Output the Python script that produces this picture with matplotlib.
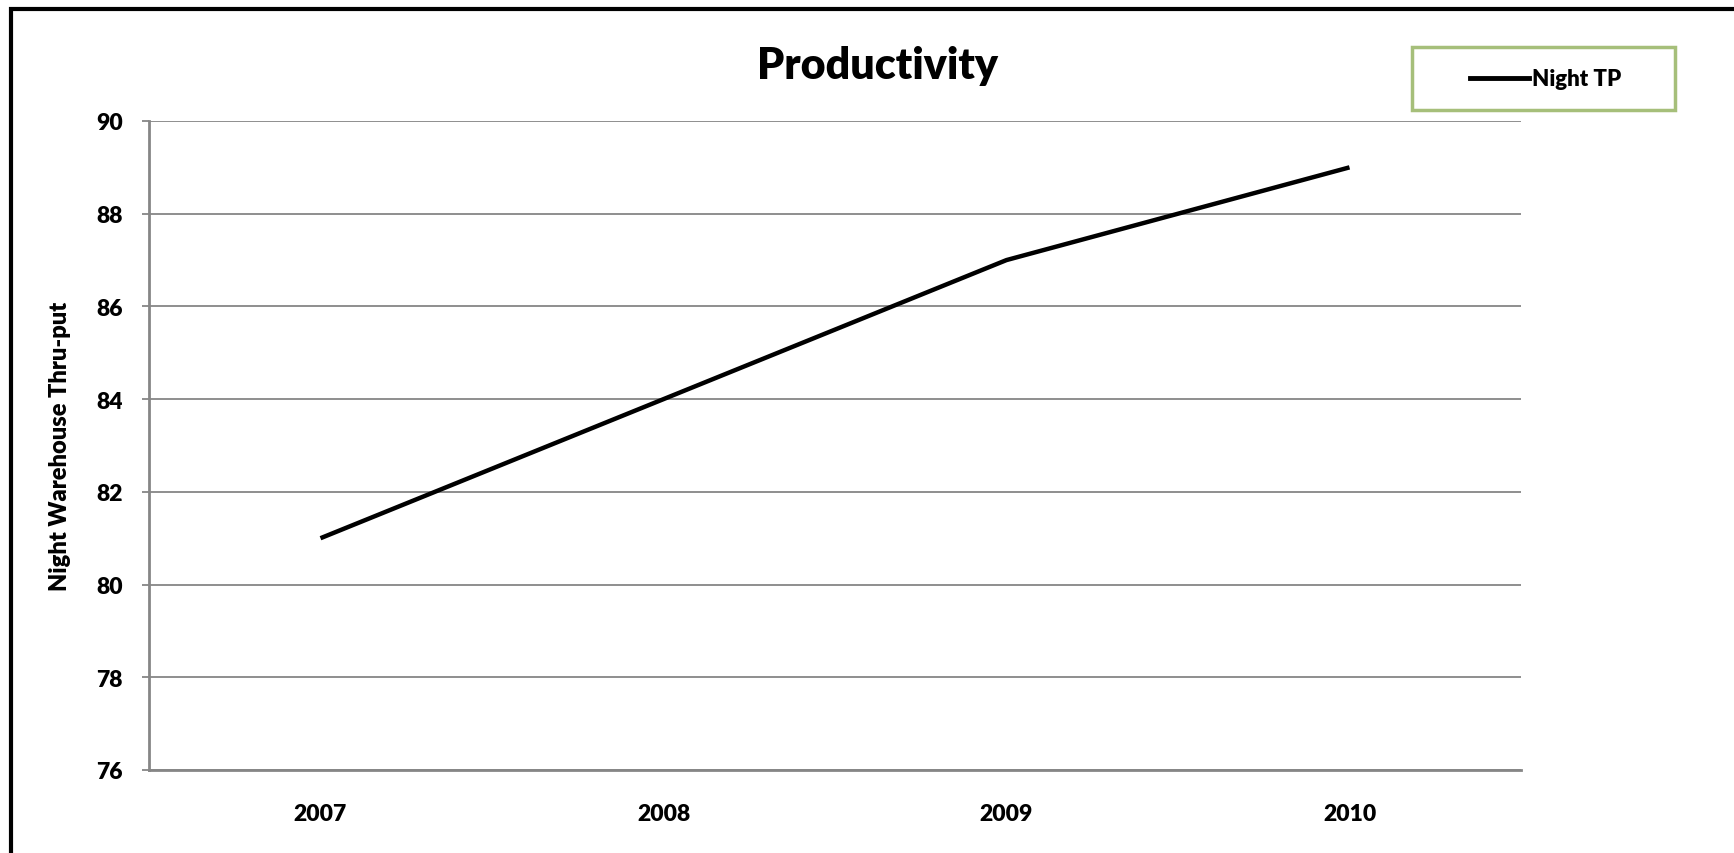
import matplotlib
matplotlib.use("Agg")
import matplotlib.pyplot as plt
from matplotlib.patches import Rectangle

years = ["2007", "2008", "2009", "2010"]
night_tp = [81, 84, 87, 89]
y_ticks = [76, 78, 80, 82, 84, 86, 88, 90]

plt.rcParams['font.family'] = ['Lato', 'DejaVu Sans']
plt.rcParams['font.weight'] = 'bold'

W, H = 1734, 854
fig = plt.figure(figsize=(W / 100, H / 100), dpi=100)
fig.patch.set_facecolor('white')

ax = fig.add_axes([149 / W, 1 - 771 / H, (1521 - 149) / W, (771 - 122) / H])
x = list(range(len(years)))
line, = ax.plot(x, night_tp, color='black', lw=3.2, solid_capstyle='butt', label='Night TP')
ax.set_xlim(-0.5, len(years) - 0.5)
ax.set_ylim(76, 90)
ax.set_yticks(y_ticks)
ax.set_xticks(x)
ax.set_xticklabels(years)
ax.yaxis.grid(True, color='#868686', lw=1.3)
ax.set_axisbelow(True)
for s in ['top', 'right']:
    ax.spines[s].set_visible(False)
for s in ['left', 'bottom']:
    ax.spines[s].set_color('#868686')
    ax.spines[s].set_linewidth(2)
ax.tick_params(axis='y', length=5, color='#868686', width=1.3, labelsize=16.5, pad=14)
ax.tick_params(axis='x', length=0, labelsize=16.5, pad=24)
for lbl in ax.get_xticklabels() + ax.get_yticklabels():
    lbl.set_fontweight('heavy')
ax.set_ylabel('Night Warehouse Thru-put', fontsize=17, fontweight='heavy', labelpad=18)

fig.text(878 / W, 1 - 66 / H, 'Productivity', ha='center', va='center', fontsize=31, fontweight='heavy')

# legend box
fig.patches.append(Rectangle((1412 / W, 1 - 111 / H), (1675 - 1412) / W, (111 - 48) / H,
                             transform=fig.transFigure, fill=False, edgecolor='#A6BF7A', lw=2.5))
fig.lines.append(matplotlib.lines.Line2D([1470 / W, 1529 / W], [1 - 79 / H, 1 - 79 / H],
                                         transform=fig.transFigure, color='black', lw=3.5))
fig.text(1532 / W, 1 - 79 / H, 'Night TP', ha='left', va='center', fontsize=16, fontweight='heavy')

# outer black frame (cropped on right and bottom)
fig.patches.append(Rectangle((11 / W, -0.05), 1.2, 1 - 9.5 / H + 0.05,
                             transform=fig.transFigure, fill=False, edgecolor='black', lw=3))

fig.savefig('out.png', dpi=100, facecolor='white')
